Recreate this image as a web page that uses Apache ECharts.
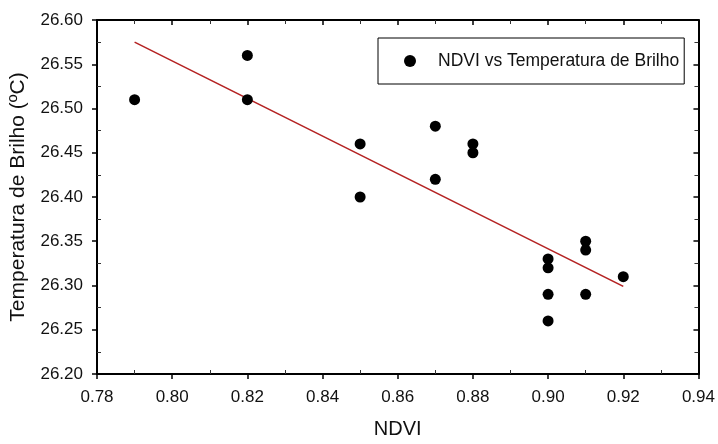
<!DOCTYPE html>
<html>
<head>
<meta charset="utf-8">
<script src="https://cdn.jsdelivr.net/npm/echarts@6/dist/echarts.min.js"></script>
<style>html,body{margin:0;padding:0;background:#fff}#c{width:718px;height:444px}</style>
</head>
<body>
<div id="c"></div>
<script>
var ndvi = [0.79, 0.82, 0.82, 0.85, 0.85, 0.87, 0.87, 0.88, 0.88, 0.90, 0.90, 0.90, 0.90, 0.91, 0.91, 0.91, 0.92];
var temp = [26.51, 26.56, 26.51, 26.46, 26.40, 26.48, 26.42, 26.46, 26.45, 26.33, 26.32, 26.29, 26.26, 26.35, 26.34, 26.29, 26.31];
var fitX = [0.79, 0.92];
var fitY = [26.575, 26.299];
var seriesName = 'NDVI vs Temperatura de Brilho';
var xTitle = 'NDVI';
var yTitle = 'Temperatura de Brilho (ºC)';

var FONT = 'Liberation Sans, Arial, sans-serif';
var chart = echarts.init(document.getElementById('c'), null, {renderer: 'canvas'});
var pts = ndvi.map(function (x, i) { return [x, temp[i]]; });
var fit = fitX.map(function (x, i) { return [x, fitY[i]]; });
var axisLine = {show: true, onZero: false, lineStyle: {color: '#000', width: 2}};
var hidden = {show: false};
chart.setOption({
  animation: false,
  backgroundColor: '#fff',
  grid: {left: 97, right: 18, top: 20, bottom: 61, containLabel: false},
  legend: {
    data: [seriesName],
    left: 378, top: 38,
    padding: [14, 5, 14, 26],
    borderColor: '#000', borderWidth: 1,
    itemWidth: 12, itemHeight: 12,
    textStyle: {fontFamily: FONT, fontSize: 17.5, color: '#111', padding: [0, 0, 0, 17]}
  },
  xAxis: [{
    type: 'value', min: 0.78, max: 0.94, interval: 0.02, position: 'bottom',
    name: xTitle, nameLocation: 'middle', nameGap: 45,
    nameTextStyle: {fontFamily: FONT, fontSize: 20, color: '#111'},
    axisLine: axisLine,
    axisTick: {show: true, inside: false, length: 5, lineStyle: {color: '#000', width: 1.5}},
    minorTick: {show: true, splitNumber: 2, length: -4, lineStyle: {color: '#333', width: 1}},
    axisLabel: {fontFamily: FONT, fontSize: 17, color: '#111', margin: 15,
      formatter: function (v) { return v.toFixed(2); }},
    splitLine: hidden
  }, {
    type: 'value', min: 0.78, max: 0.94, interval: 0.02, position: 'top',
    axisLine: axisLine,
    axisTick: {show: true, inside: true, length: 5, lineStyle: {color: '#000', width: 1.5}},
    minorTick: {show: true, splitNumber: 2, length: 4, lineStyle: {color: '#333', width: 1}},
    axisLabel: hidden, splitLine: hidden
  }],
  yAxis: [{
    type: 'value', min: 26.2, max: 26.6, interval: 0.05, position: 'left',
    name: yTitle, nameLocation: 'middle', nameGap: 68,
    nameTextStyle: {fontFamily: FONT, fontSize: 21, color: '#111'},
    axisLine: axisLine,
    axisTick: {show: true, inside: false, length: 5, lineStyle: {color: '#000', width: 1.5}},
    minorTick: {show: true, splitNumber: 2, length: -4, lineStyle: {color: '#333', width: 1}},
    axisLabel: {fontFamily: FONT, fontSize: 17, color: '#111', margin: 14,
      formatter: function (v) { return v.toFixed(2); }},
    splitLine: hidden
  }, {
    type: 'value', min: 26.2, max: 26.6, interval: 0.05, position: 'right',
    axisLine: axisLine,
    axisTick: {show: true, inside: true, length: 5, lineStyle: {color: '#000', width: 1.5}},
    minorTick: {show: true, splitNumber: 2, length: 4, lineStyle: {color: '#333', width: 1}},
    axisLabel: hidden, splitLine: hidden
  }],
  series: [{
    name: 'fit', type: 'line', data: fit, xAxisIndex: 0, yAxisIndex: 0,
    symbol: 'none', lineStyle: {color: '#b42121', width: 1.6}, z: 2, silent: true
  }, {
    name: seriesName, type: 'scatter', data: pts, xAxisIndex: 0, yAxisIndex: 0,
    symbol: 'circle', symbolSize: 11, itemStyle: {color: '#000', opacity: 1}, z: 3
  }]
});
</script>
</body>
</html>
